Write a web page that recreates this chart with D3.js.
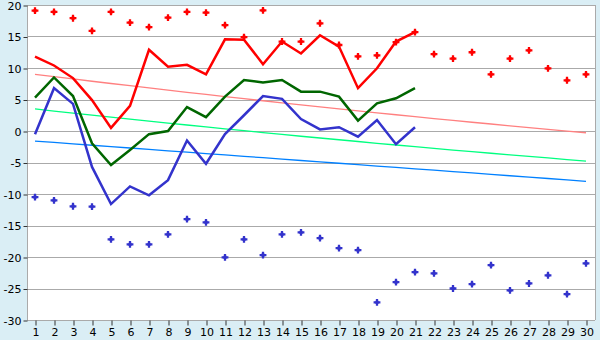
<!DOCTYPE html>
<html><head><meta charset="utf-8">
<script src="https://cdn.jsdelivr.net/npm/d3@7"></script>
<style>
html,body{margin:0;padding:0;background:#daeef5;}
svg{display:block;}
text{font-family:"DejaVu Sans",Verdana,sans-serif;}
</style></head><body>
<svg id="c" width="600" height="340"></svg>
<script>
const days = d3.range(1, 31);
const yTicks = [-30, -25, -20, -15, -10, -5, 0, 5, 10, 15, 20];

const maxLine = [11.8,10.4,8.4,4.9,0.5,4.0,12.9,10.2,10.5,9.0,14.55,14.5,10.6,14.2,12.3,15.2,13.4,6.8,9.95,14.2,15.7];
const meanLine = [5.3,8.5,5.55,-1.95,-5.4,-3.0,-0.5,0.0,3.8,2.2,5.45,8.1,7.7,8.1,6.25,6.25,5.45,1.65,4.4,5.2,6.8];
const minLine = [-0.5,6.8,4.3,-5.7,-11.6,-8.8,-10.2,-7.8,-1.5,-5.2,-0.5,2.5,5.55,5.1,1.9,0.25,0.6,-0.9,1.75,-2.1,0.6];

const maxRecord = [19.1,18.9,17.9,15.9,18.9,17.2,16.5,18.0,18.9,18.8,16.8,14.9,19.15,14.2,14.2,17.1,13.65,11.85,12.0,14.1,15.7,12.2,11.5,12.5,9.0,11.5,12.8,9.95,8.05,9.0];
const minRecord = [-10.5,-11.0,-11.95,-12.0,-17.2,-18.0,-18.0,-16.4,-14.0,-14.5,-20.05,-17.2,-19.7,-16.4,-16.1,-17.0,-18.6,-18.9,-27.2,-24.0,-22.4,-22.6,-25.0,-24.3,-21.3,-25.3,-24.2,-22.9,-25.9,-21.0];

const normMax = [9.0,8.63,8.26,7.90,7.54,7.19,6.83,6.49,6.14,5.80,5.46,5.13,4.80,4.47,4.15,3.83,3.51,3.20,2.89,2.58,2.28,1.98,1.69,1.39,1.11,0.82,0.54,0.26,-0.01,-0.28];
const normMean = [3.5,3.17,2.84,2.52,2.20,1.88,1.57,1.26,0.95,0.65,0.34,0.05,-0.25,-0.54,-0.83,-1.11,-1.39,-1.67,-1.95,-2.22,-2.49,-2.76,-3.02,-3.28,-3.53,-3.79,-4.04,-4.28,-4.53,-4.77];
const normMin = [-1.60,-1.82,-2.04,-2.26,-2.48,-2.70,-2.92,-3.14,-3.36,-3.58,-3.80,-4.02,-4.24,-4.46,-4.68,-4.90,-5.12,-5.34,-5.56,-5.78,-6.00,-6.22,-6.44,-6.66,-6.88,-7.10,-7.32,-7.54,-7.76,-7.98];

const svg = d3.select("#c");
const L = 27, R = 595, T = 5, B = 320;
const x = d3.scalePoint().domain(days).range([35, 586]);
const y = d3.scaleLinear().domain([-30, 20]).range([B, T]);

svg.append("rect").attr("x", L).attr("y", T).attr("width", R - L).attr("height", B - T).attr("fill", "#fff");

// grid
svg.append("g").selectAll("line").data(yTicks).join("line")
  .attr("x1", L).attr("x2", R)
  .attr("y1", d => Math.round(y(d)) + 0.5).attr("y2", d => Math.round(y(d)) + 0.5)
  .attr("stroke", "#aaaaaa").attr("stroke-width", 1);
svg.append("line").attr("x1", R + 0.5).attr("x2", R + 0.5).attr("y1", T).attr("y2", B)
  .attr("stroke", "#aaaaaa");
svg.append("line").attr("x1", L + 0.5).attr("x2", L + 0.5).attr("y1", T).attr("y2", B + 1)
  .attr("stroke", "#aaaaaa");

// axes
const yAxis = svg.append("g").attr("transform", `translate(${L + 0.5},0.5)`)
  .call(d3.axisLeft(y).tickValues(yTicks).tickSize(4).tickSizeOuter(0).tickPadding(2)
    .tickFormat(d => String(d)));
const xAxis = svg.append("g").attr("transform", `translate(0.5,${B + 0.5})`)
  .call(d3.axisBottom(x).tickSize(5).tickSizeOuter(0).tickPadding(3));
[yAxis, xAxis].forEach(a => {
  a.select(".domain").remove();
  a.selectAll(".tick line").attr("stroke", "#333");
  a.selectAll("text").attr("fill", "#000").style("font-size", "11px").style("font-family", "'DejaVu Sans', Verdana, sans-serif");
});

// normal lines
const line = d3.line().x((d, i) => x(days[i])).y(d => y(d));
[[normMax, "#ff8080"], [normMean, "#00ff80"], [normMin, "#0080ff"]].forEach(([d, c]) => {
  svg.append("path").datum(d).attr("d", line).attr("fill", "none")
    .attr("stroke", c).attr("stroke-width", 1.3);
});

// main lines
[[minLine, "#3333cc"], [meanLine, "#006600"], [maxLine, "#ff0000"]].forEach(([d, c]) => {
  svg.append("path").datum(d).attr("d", line).attr("fill", "none")
    .attr("stroke", c).attr("stroke-width", 2.5).attr("stroke-linejoin", "miter");
});

// records
const cross = d3.symbol().type(d3.symbolCross).size(26);
const diamond = d3.symbol().type(d3.symbolSquare).size(10);
[[maxRecord, "#ff0000"], [minRecord, "#3333cc"]].forEach(([d, c]) => {
  const g = svg.append("g").selectAll("g").data(d).join("g")
    .attr("transform", (v, i) => `translate(${x(days[i])},${y(v)})`)
    .attr("fill", c);
  g.append("path").attr("d", cross);
  g.append("path").attr("d", diamond);
});
</script>
</body></html>
